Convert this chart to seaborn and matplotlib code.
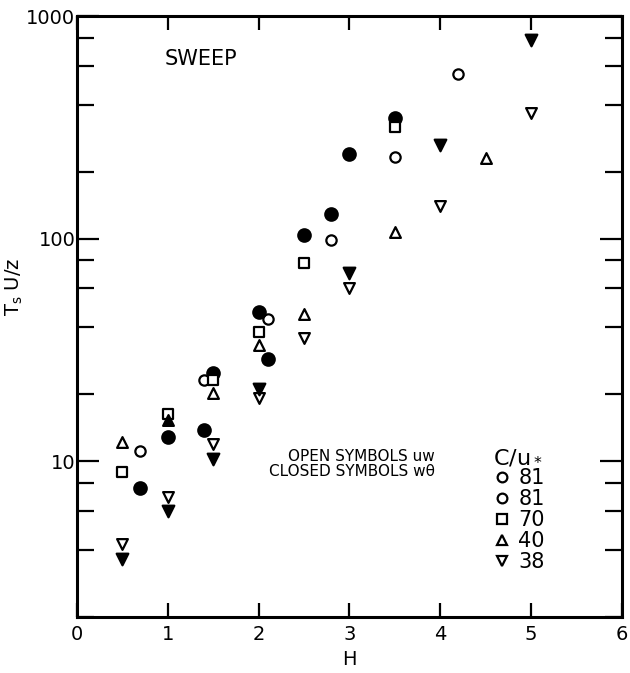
import numpy as np
import pandas as pd
import matplotlib
matplotlib.use("Agg")
import matplotlib.pyplot as plt
from matplotlib.lines import Line2D
from matplotlib.ticker import FixedLocator, NullFormatter
import seaborn as sns

sns.set_theme(style="ticks")
plt.rcParams['font.family'] = ['DejaVu Sans']
plt.rcParams['text.color'] = 'black'
plt.rcParams['axes.labelcolor'] = 'black'

# open circles, C/u* = 81 (uw)
circ_open_H = [0.7, 1.4, 2.1, 2.8, 3.5, 4.2]
circ_open_T = [11.1, 23.3, 43.7, 99, 234, 550]
# closed circles, C/u* = 81 (w theta)
circ_fill_H = [0.7, 1.0, 1.4, 1.5, 2.0, 2.1, 2.5, 2.8, 3.0, 3.5]
circ_fill_T = [7.6, 12.9, 13.8, 25, 46.8, 29, 104, 129, 240, 348]
# open squares, C/u* = 70
sq_open_H = [0.5, 1.0, 1.5, 2.0, 2.5, 3.5]
sq_open_T = [9.0, 16.3, 23.3, 38, 78, 319]
# up triangles, C/u* = 40
up_open_H = [0.5, 1.5, 2.0, 2.5, 3.5, 4.5]
up_open_T = [12.2, 20.3, 33.5, 46, 107, 230]
up_fill_H = [1.0]
up_fill_T = [15.4]
# down triangles, C/u* = 38
dn_open_H = [0.5, 1.0, 1.5, 2.0, 2.5, 3.0, 4.0, 5.0]
dn_open_T = [4.25, 6.9, 12.0, 19.3, 36, 60, 140, 366]
dn_fill_H = [0.5, 1.0, 1.5, 2.0, 3.0, 4.0, 5.0]
dn_fill_T = [3.66, 6.0, 10.3, 21.2, 70, 264, 780]

legend_labels = ["81", "81", "70", "40", "38"]
legend_markers = ["o", "o", "s", "^", "v"]

series = [
    (circ_open_H, circ_open_T, "o", "white", 55),
    (circ_fill_H, circ_fill_T, "o", "black", 80),
    (sq_open_H, sq_open_T, "s", "white", 55),
    (up_open_H, up_open_T, "^", "white", 60),
    (up_fill_H, up_fill_T, "^", "black", 60),
    (dn_open_H, dn_open_T, "v", "white", 60),
    (dn_fill_H, dn_fill_T, "v", "black", 70),
]

fig = plt.figure(figsize=(6.3, 6.73), dpi=100)
ax = fig.add_axes([0.122, 0.083, 0.865, 0.893])

for h, t, m, fc, s in series:
    df = pd.DataFrame({"H": h, "T": t})
    sns.scatterplot(data=df, x="H", y="T", marker=m, s=s, color="black",
                    facecolor=fc, edgecolor="black", linewidth=1.6, ax=ax,
                    zorder=3)

ax.set_yscale("log")
ax.set_xlim(0, 6)
ax.set_ylim(2, 1000)
ax.set_xticks(range(7))
ax.set_yticks([10, 100, 1000])
ax.set_yticklabels(["10", "100", "1000"])
ax.yaxis.set_minor_locator(FixedLocator([2, 4, 6, 8, 20, 40, 60, 80, 200, 400, 600, 800]))
ax.yaxis.set_minor_formatter(NullFormatter())
ax.tick_params(axis="both", which="both", direction="in", top=True, right=True,
               width=1.6, labelsize=14, colors="black")
ax.tick_params(axis="y", which="major", length=16, pad=1)
ax.tick_params(axis="y", which="minor", length=12)
ax.tick_params(axis="x", which="major", length=10, pad=6)
for sp in ax.spines.values():
    sp.set_linewidth(2.2)
    sp.set_color("black")

ax.set_xlabel("H", fontsize=14, labelpad=4)
ax.set_ylabel("$\\mathregular{T_s}$ U/z", fontsize=14)
ax.yaxis.set_label_coords(-0.095, 0.55)

ax.text(0.97, 640, "SWEEP", fontsize=15, va="center", ha="left")
ax.text(3.94, 10.5, "OPEN SYMBOLS uw", fontsize=11, ha="right", va="center")
ax.text(3.94, 9.0, "CLOSED SYMBOLS wθ", fontsize=11, ha="right", va="center")

handles = [Line2D([], [], marker=m, linestyle="", markerfacecolor="white",
                  markeredgecolor="black", markeredgewidth=1.6, markersize=7)
           for m in legend_markers]
leg = ax.legend(handles, legend_labels, title="C/u$_*$", frameon=False,
                loc="upper left", bbox_to_anchor=(0.745, 0.30), fontsize=15,
                title_fontsize=16, handlelength=0.8, handletextpad=0.4,
                labelspacing=0.05, borderpad=0, labelcolor="black")
leg.get_title().set_color("black")
leg._legend_box.align = "left"

fig.savefig("out.png", dpi=100)
